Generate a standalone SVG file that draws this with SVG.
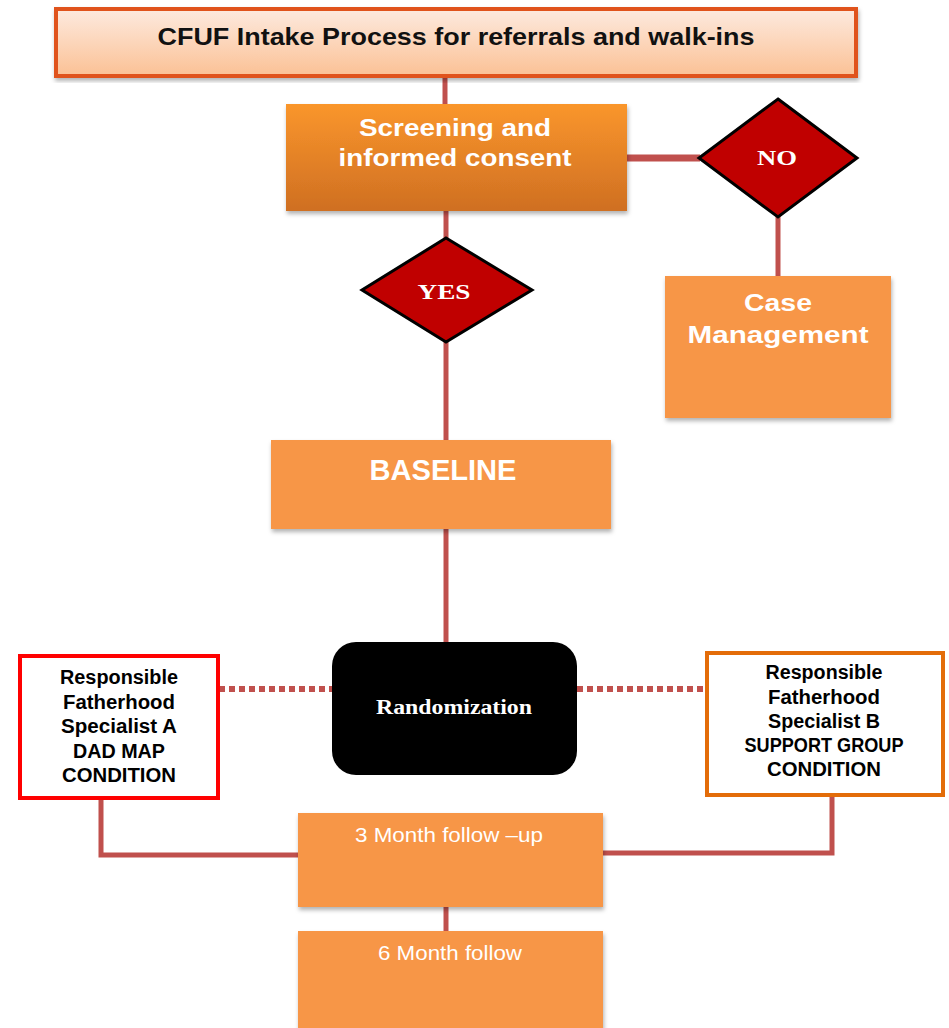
<svg xmlns="http://www.w3.org/2000/svg" width="949" height="1028" viewBox="0 0 949 1028">
<style>
.conn{stroke:#C0504D;stroke-width:5;fill:none}
.dash{stroke:#C0504D;stroke-width:6;fill:none;stroke-dasharray:6 4}
.box{fill:#F79646}
.wb{fill:#FFFFFF;font-family:"Liberation Sans",Arial,sans-serif;font-weight:bold;text-anchor:middle}
.wr{fill:#FFFFFF;font-family:"Liberation Sans",Arial,sans-serif;text-anchor:middle;font-size:20px}
.sb{fill:#FFFFFF;font-family:"Liberation Serif","Times New Roman",serif;font-weight:bold;text-anchor:middle}
.kb{fill:#000000;font-family:"Liberation Sans",Arial,sans-serif;font-weight:bold;text-anchor:middle;font-size:19.5px}
.dia{fill:#C00000;stroke:#000000;stroke-width:3;stroke-linejoin:miter}
</style>
<defs>
<linearGradient id="gTitle" x1="0" y1="0" x2="0" y2="1">
<stop offset="0" stop-color="#FDEADF"/>
<stop offset="1" stop-color="#FBC195"/>
</linearGradient>
<linearGradient id="gScreen" x1="0" y1="0" x2="0" y2="1">
<stop offset="0" stop-color="#FA962C"/>
<stop offset="1" stop-color="#CF6F22"/>
</linearGradient>
<filter id="sh" x="-5%" y="-5%" width="110%" height="115%">
<feDropShadow dx="1" dy="3" stdDeviation="2" flood-color="#000000" flood-opacity="0.3"/>
</filter>
</defs>

<g id="connectors">
<line class="conn" x1="445" y1="77" x2="445" y2="106"/>
<line class="conn" x1="626" y1="158" x2="700" y2="158" style="stroke-width:7"/>
<line class="conn" x1="778" y1="216" x2="778" y2="278"/>
<line class="conn" x1="446" y1="210" x2="446" y2="239"/>
<line class="conn" x1="446" y1="341" x2="446" y2="442"/>
<line class="conn" x1="446" y1="528" x2="446" y2="644"/>
<line class="dash" x1="219" y1="689" x2="332" y2="689"/>
<line class="dash" x1="577" y1="689" x2="706" y2="689"/>
<polyline class="conn" points="101,798 101,855 300,855"/>
<polyline class="conn" points="832,795 832,853 601,853"/>
<line class="conn" x1="446" y1="906" x2="446" y2="933"/>
</g>

<g id="title">
<rect x="56" y="9" width="800" height="67" fill="url(#gTitle)" stroke="#E0521A" stroke-width="4" filter="url(#sh)"/>
<text x="456" y="45" style="fill:#111111;font-family:'Liberation Sans',Arial,sans-serif;font-weight:bold;font-size:24px;text-anchor:middle" textLength="597" lengthAdjust="spacingAndGlyphs">CFUF Intake Process for referrals and walk-ins</text>
</g>

<g id="screening">
<rect x="286" y="104" width="341" height="107" fill="url(#gScreen)" filter="url(#sh)"/>
<text class="wb" x="455" y="136" font-size="24" textLength="192" lengthAdjust="spacingAndGlyphs">Screening and</text>
<text class="wb" x="455" y="166" font-size="24" textLength="233" lengthAdjust="spacingAndGlyphs">informed consent</text>
</g>

<g id="no">
<polygon class="dia" points="778,99 857,158 778,217 699,158"/>
<text class="sb" x="777" y="165" font-size="21" textLength="40" lengthAdjust="spacingAndGlyphs">NO</text>
</g>

<g id="case-management">
<rect class="box" x="665" y="276" width="226" height="142" filter="url(#sh)"/>
<text class="wb" x="778" y="311" font-size="23" textLength="68" lengthAdjust="spacingAndGlyphs">Case</text>
<text class="wb" x="778" y="343" font-size="23" textLength="181" lengthAdjust="spacingAndGlyphs">Management</text>
</g>

<g id="yes">
<polygon class="dia" points="446,238 532,290 446,342 362,290"/>
<text class="sb" x="444" y="299" font-size="21" textLength="53" lengthAdjust="spacingAndGlyphs">YES</text>
</g>

<g id="baseline">
<rect class="box" x="271" y="440" width="340" height="89" filter="url(#sh)"/>
<text class="wb" x="443" y="480" font-size="30" textLength="147" lengthAdjust="spacingAndGlyphs">BASELINE</text>
</g>

<g id="randomization">
<rect x="332" y="642" width="245" height="133" rx="24" ry="24" fill="#000000"/>
<text class="sb" x="454" y="714" font-size="20" textLength="156" lengthAdjust="spacingAndGlyphs">Randomization</text>
</g>

<g id="specialist-a">
<rect x="20" y="656" width="198" height="142" fill="#FFFFFF" stroke="#FF0000" stroke-width="4"/>
<text class="kb" x="119" y="684" textLength="118" lengthAdjust="spacingAndGlyphs">Responsible</text>
<text class="kb" x="119" y="709" textLength="112" lengthAdjust="spacingAndGlyphs">Fatherhood</text>
<text class="kb" x="119" y="733" textLength="116" lengthAdjust="spacingAndGlyphs">Specialist A</text>
<text class="kb" x="119" y="758" textLength="92" lengthAdjust="spacingAndGlyphs">DAD MAP</text>
<text class="kb" x="119" y="782" textLength="114" lengthAdjust="spacingAndGlyphs">CONDITION</text>
</g>

<g id="specialist-b">
<rect x="707" y="653" width="236" height="142" fill="#FFFFFF" stroke="#E36C09" stroke-width="4"/>
<text class="kb" x="824" y="679" textLength="117" lengthAdjust="spacingAndGlyphs">Responsible</text>
<text class="kb" x="824" y="704" textLength="112" lengthAdjust="spacingAndGlyphs">Fatherhood</text>
<text class="kb" x="824" y="728" textLength="112" lengthAdjust="spacingAndGlyphs">Specialist B</text>
<text class="kb" x="824" y="752" textLength="159" lengthAdjust="spacingAndGlyphs">SUPPORT GROUP</text>
<text class="kb" x="824" y="776" textLength="114" lengthAdjust="spacingAndGlyphs">CONDITION</text>
</g>

<g id="month3">
<rect class="box" x="298" y="813" width="305" height="94" filter="url(#sh)"/>
<text class="wr" x="449" y="842" textLength="188" lengthAdjust="spacingAndGlyphs">3 Month follow –up</text>
</g>

<g id="month6">
<rect class="box" x="298" y="931" width="305" height="100" filter="url(#sh)"/>
<text class="wr" x="450" y="960" textLength="144" lengthAdjust="spacingAndGlyphs">6 Month follow</text>
</g>
</svg>
